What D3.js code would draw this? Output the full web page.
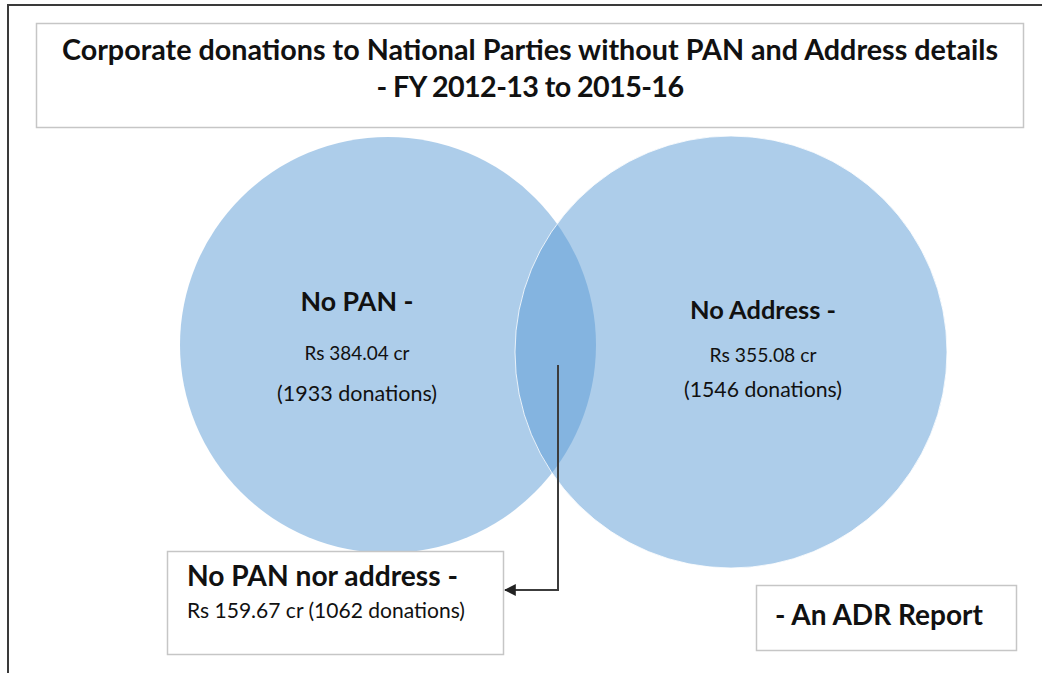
<!DOCTYPE html>
<html>
<head>
<meta charset="utf-8">
<script src="https://cdn.jsdelivr.net/npm/d3@7"></script>
<style>
  body { margin: 0; background: #fff; }
  svg { display: block; }
  text { font-family: Lato, "Open Sans", sans-serif; fill: #111; }
</style>
</head>
<body>
<svg id="venn"></svg>
<script>
// data
var titleLines = ["Corporate donations to National Parties without PAN and Address details", "- FY 2012-13 to 2015-16"];
var sets = ["No PAN -", "No Address -"];
var amounts = [384.04, 355.08];       // Rs crore
var donations = [1933, 1546];
var overlapLabel = "No PAN nor address -";
var overlapAmount = 159.67;
var overlapDonations = 1062;
var sourceNote = "- An ADR Report";

var width = 1042, height = 673;
var svg = d3.select("#venn").attr("width", width).attr("height", height);

// scale font size so a text spans the wanted width (reference font is wider than Lato)
function fit(sel, w) {
    sel.each(function() {
        var t = d3.select(this), fs = +t.attr("font-size");
        var len = this.getComputedTextLength();
        if (len > 0) t.attr("font-size", (fs * w / len).toFixed(2));
    });
}

// outer frame
svg.append("rect")
    .attr("x", 8).attr("y", 5)
    .attr("width", width + 10).attr("height", height + 10)
    .attr("fill", "none").attr("stroke", "#3a3a3a").attr("stroke-width", 2);

// title box
svg.append("rect")
    .attr("x", 36.5).attr("y", 23.5).attr("width", 987).attr("height", 104)
    .attr("fill", "#fff").attr("stroke", "#c6c6c6").attr("stroke-width", 1.5);

var title = svg.selectAll(".title")
    .data(titleLines)
    .enter().append("text")
    .attr("class", "title")
    .attr("x", 530)
    .attr("y", function(d, i) { return 60 + i * 37; })
    .attr("text-anchor", "middle")
    .attr("font-size", 22)
    .attr("font-weight", "bold")
    .text(function(d) { return d; });
fit(title.filter(function(d, i) { return i == 0; }), 936);
var titleSize = +title.filter(function(d, i) { return i == 0; }).attr("font-size");
title.filter(function(d, i) { return i == 1; })
    .attr("font-size", titleSize)
    .attr("letter-spacing", -0.6);

// circle layout
var x = d3.scalePoint().domain(sets).range([388, 731]);
var cy = d3.scaleOrdinal().domain(sets).range([345, 352]);
var rad = d3.scaleOrdinal().domain(sets).range([208, 216]);

var fmt = d3.format(".2f");

svg.selectAll(".set")
    .data(sets)
    .enter().append("circle")
    .attr("class", "set")
    .attr("cx", function(d) { return x(d); })
    .attr("cy", function(d) { return cy(d); })
    .attr("r", function(d) { return rad(d); })
    .attr("fill", "#5b9bd5")
    .attr("fill-opacity", 0.5)
    .attr("stroke", function(d, i) { return i == 1 ? "#fff" : "none"; })
    .attr("stroke-opacity", 0.8)
    .attr("stroke-width", 1);

// labels inside circles: offsets from centre, text widths
var labelPos = [
    {x: -31, y: [-34, 15, 56], w: [113, 105, 160]},
    {x: 32, y: [-33, 10, 45], w: [146, 107, 158]}
];
var g = svg.selectAll(".lbl")
    .data(sets)
    .enter().append("g")
    .attr("class", "lbl")
    .attr("transform", function(d, i) {
        return "translate(" + (x(d) + labelPos[i].x) + "," + cy(d) + ")";
    });

g.append("text")
    .attr("y", function(d, i) { return labelPos[i].y[0]; })
    .attr("text-anchor", "middle")
    .attr("font-size", 22)
    .attr("font-weight", "bold")
    .text(function(d) { return d; })
    .each(function(d, i) { fit(d3.select(this), labelPos[i].w[0]); });

g.append("text")
    .attr("y", function(d, i) { return labelPos[i].y[1]; })
    .attr("text-anchor", "middle")
    .attr("font-size", 16)
    .attr("fill", "#222")
    .text(function(d, i) { return "Rs " + fmt(amounts[i]) + " cr"; })
    .each(function(d, i) { fit(d3.select(this), labelPos[i].w[1]); });

g.append("text")
    .attr("y", function(d, i) { return labelPos[i].y[2]; })
    .attr("text-anchor", "middle")
    .attr("font-size", 16)
    .attr("fill", "#222")
    .text(function(d, i) { return "(" + donations[i] + " donations)"; })
    .each(function(d, i) { fit(d3.select(this), labelPos[i].w[2]); });

// connector from the overlap to the callout box
svg.append("defs").append("marker")
    .attr("id", "arrow")
    .attr("viewBox", "0 0 10 10")
    .attr("refX", 9).attr("refY", 5)
    .attr("markerWidth", 6).attr("markerHeight", 6)
    .attr("orient", "auto")
    .append("path")
    .attr("d", "M0,0L10,5L0,10z")
    .attr("fill", "#222");

svg.append("path")
    .attr("d", d3.line()([[558, 365], [558, 590], [505, 590]]))
    .attr("fill", "none")
    .attr("stroke", "#3c3c3c")
    .attr("stroke-width", 2)
    .attr("marker-end", "url(#arrow)");

// callout box for the overlap
svg.append("rect")
    .attr("x", 167.5).attr("y", 551.5).attr("width", 336).attr("height", 103)
    .attr("fill", "#fff").attr("stroke", "#c6c6c6").attr("stroke-width", 1.5);

svg.append("text")
    .attr("x", 187).attr("y", 586)
    .attr("font-size", 22).attr("font-weight", "bold")
    .text(overlapLabel)
    .call(fit, 271);

svg.append("text")
    .attr("x", 187).attr("y", 618)
    .attr("font-size", 16).attr("fill", "#222")
    .text("Rs " + fmt(overlapAmount) + " cr (" + overlapDonations + " donations)")
    .call(fit, 278);

// source note box
svg.append("rect")
    .attr("x", 756.5).attr("y", 585.5).attr("width", 260).attr("height", 65)
    .attr("fill", "#fff").attr("stroke", "#c6c6c6").attr("stroke-width", 1.5);

svg.append("text")
    .attr("x", 775).attr("y", 625)
    .attr("font-size", 22).attr("font-weight", "bold")
    .text(sourceNote)
    .call(fit, 208);
</script>
</body>
</html>
